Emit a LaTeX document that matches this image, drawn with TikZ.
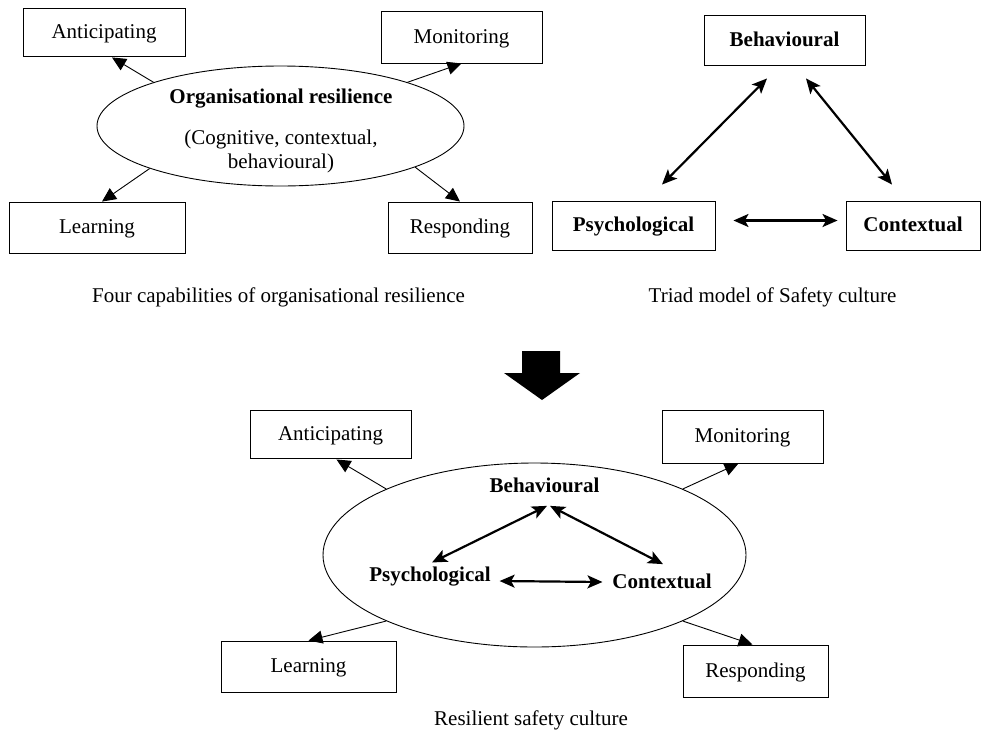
\documentclass[tikz,border=0pt]{standalone}
\usepackage{fontspec}
\setmainfont{Liberation Serif}
\usepackage{xcolor}
\usetikzlibrary{arrows.meta}
\usetikzlibrary{shapes.geometric}
\usetikzlibrary{calc}
\usetikzlibrary{math}

\begin{document}
\begin{tikzpicture}[x=1pt,y=-1pt,line width=0.9pt,
  font=\fontsize{21}{24}\selectfont,
  box/.style={draw,rectangle,inner sep=0pt,text height=16pt,text depth=4pt},
  boldbox/.style={box,font=\fontsize{21}{24}\selectfont\bfseries},
  word/.style={inner sep=0pt,font=\fontsize{21}{24}\selectfont\bfseries},
  oval/.style={draw,ellipse,inner sep=0pt},
  oneway/.style={-{Triangle[length=14pt,width=13pt]}},
  twoway/.style={line width=2.2pt,
    {Stealth[length=15pt,width=13pt,inset=3.5pt]}-{Stealth[length=15pt,width=13pt,inset=3.5pt]}}]

  \tikzmath{
    \gap  = 13;  % distance of the thick arrows from the boxes
    \lift = 5;   % lift of the horizontal arrow
  }

  \useasboundingbox (0,0) rectangle (981,734);

  % Four capabilities of organisational resilience
  \node[oval, minimum width=367pt, minimum height=120pt] (org1) at (280.5,126) {};
  \node[word] (orgtitle) at (281,99) {Organisational resilience};
  \node[inner sep=0pt, align=center] (orgsub) at (281,151) {(Cognitive, contextual,\\behavioural)};

  \node[box, minimum width=162pt, minimum height=48pt] (ant1) at (104,32)    {Anticipating};
  \node[box, minimum width=161pt, minimum height=52pt] (mon1) at (461.5,37)  {Monitoring};
  \node[box, minimum width=176pt, minimum height=51pt] (lea1) at (97,227.5)  {Learning};
  \node[box, minimum width=144pt, minimum height=51pt] (res1) at (460,227.5) {Responding};

  \draw[oneway] (org1.161) -- ([shift={(8,1)}]ant1.south);
  \draw[oneway] (org1.19)  -- (mon1.south);
  \draw[oneway] (org1.198) -- ([shift={(5,0)}]lea1.north);
  \draw[oneway] (org1.-17) -- (res1.north);

  \node (cap1) at (278.5,297) {Four capabilities of organisational resilience};

  % Triad model of safety culture
  \node[boldbox, minimum width=161pt, minimum height=50pt] (beh1) at (784.5,40)   {Behavioural};
  \node[boldbox, minimum width=163pt, minimum height=49pt] (psy1) at (633.5,225.5) {Psychological};
  \node[boldbox, minimum width=134pt, minimum height=49pt] (con1) at (913,225.5)   {Contextual};

  \draw[twoway] ([shift={(-17.5,\gap)}]beh1.south) -- ([shift={(28.5,-16)}]psy1.north);
  \draw[twoway] ([shift={(21.5,\gap)}]beh1.south)  -- ([shift={(-21,-16)}]con1.north);
  \draw[twoway] ([shift={(18,-\lift)}]psy1.east)   -- ([shift={(-8,-\lift)}]con1.west);

  \node (cap2) at (772.5,297) {Triad model of Safety culture};

  % big arrow down
  \coordinate (tip) at (542,400);
  \fill (522,351) -- (560,351) -- (560,373) -- (580,373) -- (tip)
    -- (504,373) -- (522,373) -- cycle;

  % Resilient safety culture
  \node[oval, minimum width=423pt, minimum height=184pt] (org2) at (534.5,555) {};

  \node[box, minimum width=161pt, minimum height=48pt] (ant2) at (330.5,434)   {Anticipating};
  \node[box, minimum width=161pt, minimum height=53pt] (mon2) at (742.5,436.5) {Monitoring};
  \node[box, minimum width=175pt, minimum height=51pt] (lea2) at (308.5,666.5) {Learning};
  \node[box, minimum width=145pt, minimum height=52pt] (res2) at (755.5,671)   {Responding};

  \draw[oneway] (org2.156) -- ([shift={(6,1)}]ant2.south);
  \draw[oneway] (org2.24)  -- ([shift={(-4,0)}]mon2.south);
  \draw[oneway] (org2.204) -- (lea2.north);
  \draw[oneway] (org2.-24) -- ([shift={(-3,0)}]res2.north);

  \node[word] (beh2) at (544.5,485) {Behavioural};
  \node[word] (psy2) at (430,577)   {Psychological};
  \node[word] (con2) at (662,581)   {Contextual};

  \draw[twoway] ([shift={(2.5,\gap)}]beh2.south) -- ([shift={(2,-4.5)}]psy2.north);
  \draw[twoway] ([shift={(5.5,\gap)}]beh2.south) -- ([shift={(1,-9)}]con2.north);
  \draw[twoway] ([shift={(8.5,4)}]psy2.east)     -- ([shift={(-9.5,1)}]con2.west);

  \node (cap3) at (531,720) {Resilient safety culture};

\end{tikzpicture}
\end{document}
